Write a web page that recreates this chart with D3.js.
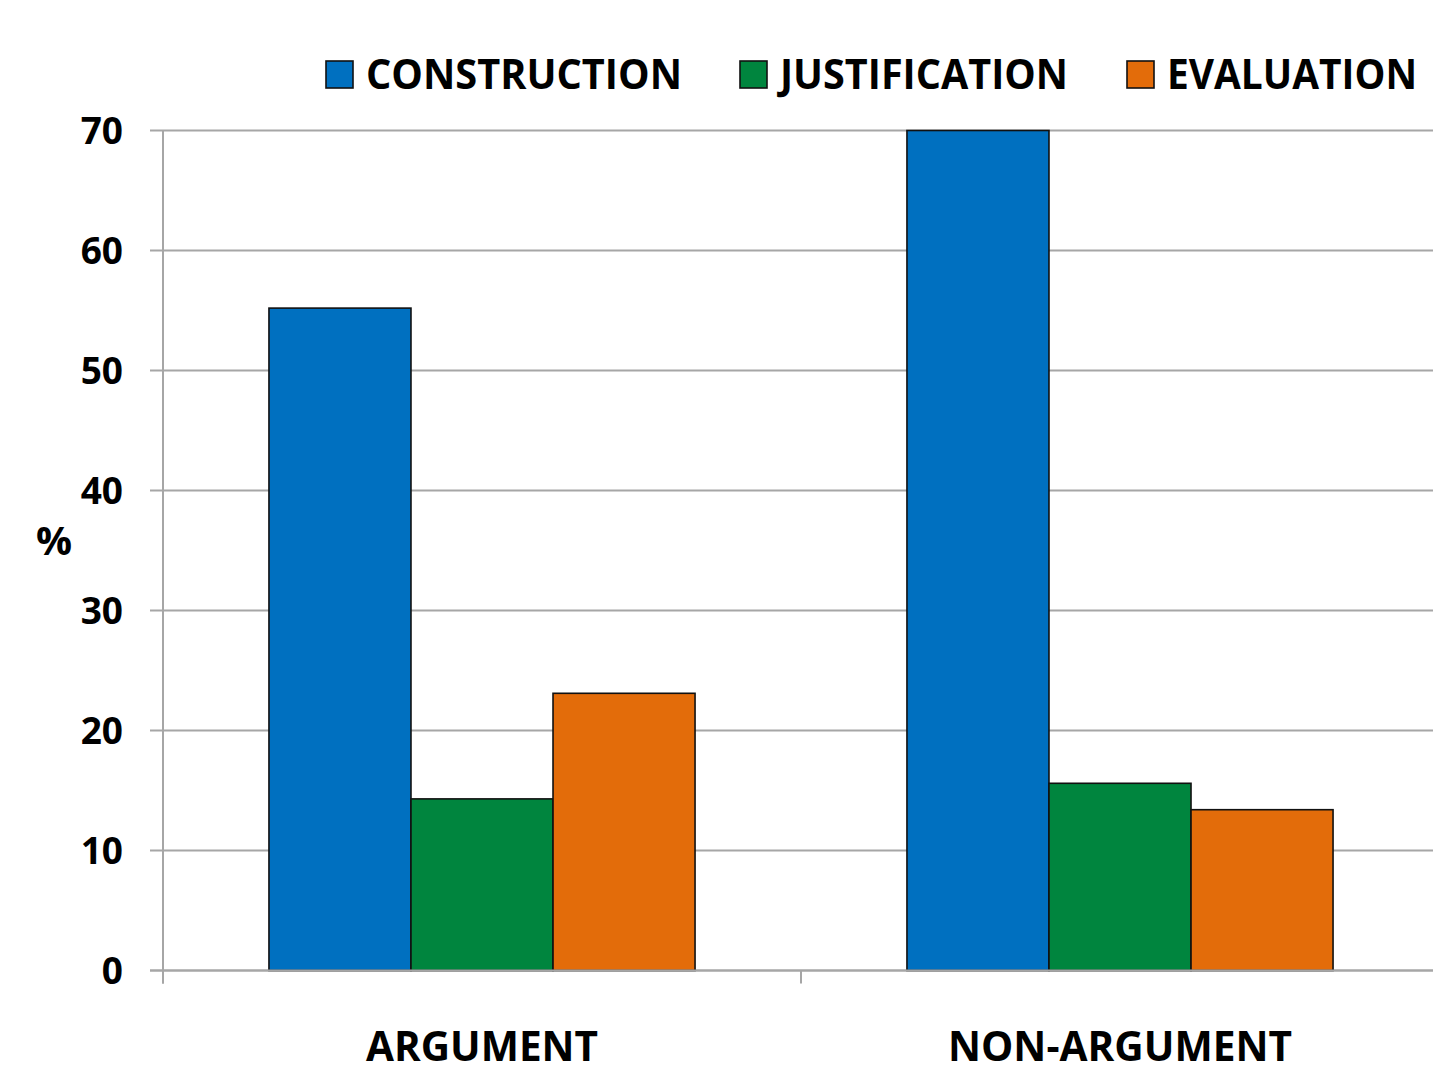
<!DOCTYPE html>
<html>
<head>
<meta charset="utf-8">
<script src="https://cdn.jsdelivr.net/npm/d3@7"></script>
<style>
  html, body { margin: 0; padding: 0; background: #fff; overflow: hidden; }
  svg text { font-family: "Open Sans", "DejaVu Sans", sans-serif; font-weight: 700; fill: #000; }
</style>
</head>
<body>
<svg id="chart" width="1433" height="1065"></svg>
<script>
// Share of each argumentation stage, by discourse type (%)
const categories = ["ARGUMENT", "NON-ARGUMENT"];
const seriesNames = ["CONSTRUCTION", "JUSTIFICATION", "EVALUATION"];
const construction = [55.2, 70];
const justification = [14.3, 15.6];
const evaluation = [23.1, 13.4];
const yTicks = [0, 10, 20, 30, 40, 50, 60, 70];
const seriesColors = ["#0070c0", "#00853e", "#e36c0a"];

const seriesValues = [construction, justification, evaluation];
const rows = categories.map((c, i) => ({
  category: c,
  values: seriesNames.map((s, k) => ({ series: s, value: seriesValues[k][i] }))
}));

const svg = d3.select("#chart");
// the plot area runs a few pixels past the right edge of the canvas
const plot = { left: 163, right: 1439, top: 130.5, bottom: 970.5 };

const x0 = d3.scaleBand().domain(categories).range([plot.left, plot.right]).padding(0);
const x1 = d3.scaleBand().domain(seriesNames).range([0, x0.bandwidth()])
  .paddingInner(0).paddingOuter(0.746);
const y = d3.scaleLinear().domain([0, 70]).range([plot.bottom, plot.top]);
const color = d3.scaleOrdinal().domain(seriesNames).range(seriesColors);

// Horizontal gridlines, starting left of the axis so they double as tick marks
svg.append("g")
  .selectAll("line")
  .data(yTicks)
  .join("line")
  .attr("x1", plot.left - 13)
  .attr("x2", plot.right)
  .attr("y1", d => y(d))
  .attr("y2", d => y(d))
  .attr("stroke", "#a6a6a6")
  .attr("stroke-width", 2);

// Y axis labels
const yAxis = svg.append("g")
  .attr("transform", `translate(${plot.left},0)`)
  .call(d3.axisLeft(y).tickValues(yTicks).tickSize(0).tickPadding(40).tickFormat(d3.format("d")));
yAxis.select(".domain").remove();
yAxis.selectAll("text")
  .attr("font-size", 37)
  .attr("font-family", null)
  .attr("dy", "0.35em");

// Y axis line
svg.append("line")
  .attr("x1", plot.left).attr("x2", plot.left)
  .attr("y1", plot.top).attr("y2", plot.bottom + 13)
  .attr("stroke", "#a6a6a6").attr("stroke-width", 2);

// Bars
svg.append("g")
  .selectAll("g")
  .data(rows)
  .join("g")
  .attr("transform", d => `translate(${x0(d.category)},0)`)
  .selectAll("rect")
  .data(d => d.values)
  .join("rect")
  .attr("x", d => x1(d.series))
  .attr("width", x1.bandwidth())
  .attr("y", d => y(d.value))
  .attr("height", d => y(0) - y(d.value))
  .attr("fill", d => color(d.series))
  .attr("stroke", "#111")
  .attr("stroke-width", 1.6);

// X axis baseline with category separators
const xAxis = svg.append("g")
  .attr("transform", `translate(0,${plot.bottom})`);
xAxis.append("line")
  .attr("x1", plot.left - 13).attr("x2", plot.right)
  .attr("stroke", "#a6a6a6").attr("stroke-width", 2);
xAxis.selectAll("line.sep")
  .data(categories.map(c => x0(c)))
  .join("line")
  .attr("class", "sep")
  .attr("x1", d => d).attr("x2", d => d)
  .attr("y1", 0).attr("y2", 13)
  .attr("stroke", "#a6a6a6").attr("stroke-width", 2);

// Category labels
const catWidths = { "ARGUMENT": 232, "NON-ARGUMENT": 344 };
svg.append("g")
  .selectAll("text")
  .data(categories)
  .join("text")
  .attr("x", d => x0(d) + x0.bandwidth() / 2)
  .attr("y", 1061)
  .attr("text-anchor", "middle")
  .attr("font-size", 42)
  .attr("textLength", d => catWidths[d])
  .attr("lengthAdjust", "spacingAndGlyphs")
  .text(d => d);

// Y axis title
svg.append("text")
  .attr("x", 54)
  .attr("y", 555)
  .attr("text-anchor", "middle")
  .attr("font-size", 40)
  .text("%");

// Legend
const legendItems = [
  { name: "CONSTRUCTION", x: 326, w: 316 },
  { name: "JUSTIFICATION", x: 740, w: 288 },
  { name: "EVALUATION", x: 1127, w: 250 }
];
const legend = svg.append("g")
  .selectAll("g")
  .data(legendItems)
  .join("g")
  .attr("transform", d => `translate(${d.x},0)`);
legend.append("rect")
  .attr("x", 0).attr("y", 61)
  .attr("width", 27).attr("height", 27)
  .attr("fill", d => color(d.name))
  .attr("stroke", "#111").attr("stroke-width", 1.6);
legend.append("text")
  .attr("x", 40)
  .attr("y", 89)
  .attr("font-size", 41)
  .attr("textLength", d => d.w)
  .attr("lengthAdjust", "spacingAndGlyphs")
  .text(d => d.name);
</script>
</body>
</html>
